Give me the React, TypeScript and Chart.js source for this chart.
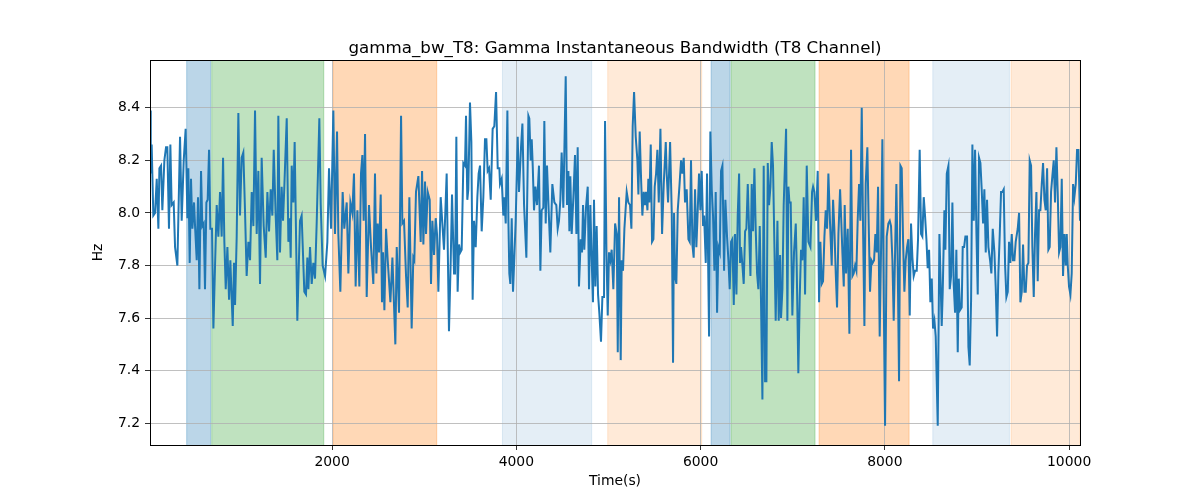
import React, { useEffect, useRef } from "react";
import { Chart, registerables } from "chart.js";

Chart.register(...registerables);

// ---- data: [time (s), bandwidth (Hz)] ----
const part1 = [
  [24, 8.39], [32, 8.15], [42, 8.26], [60, 7.99], [79, 8.0], [97, 8.13], [115, 7.94], [126, 8.17], [144, 8.18], [158, 8.01],
  [180, 8.2], [198, 8.25], [212, 8.25], [230, 7.94], [245, 8.26], [259, 8.03], [281, 8.04], [296, 7.87], [321, 7.8], [350, 8.29],
  [368, 7.97], [390, 8.2], [411, 8.32], [430, 7.98], [440, 8.17], [455, 7.81], [469, 8.13], [484, 7.94], [502, 8.04], [513, 7.95],
  [531, 7.82], [545, 8.06], [560, 7.71], [578, 8.16], [592, 7.95], [607, 7.96], [621, 7.71], [636, 8.04], [650, 8.05], [665, 8.24],
  [679, 7.94], [697, 7.94], [712, 7.56], [730, 7.8], [748, 8.03], [766, 7.91], [784, 8.08], [802, 7.91], [817, 8.21], [831, 7.89],
  [846, 7.71], [864, 7.87], [882, 7.67], [896, 7.82], [911, 7.67], [922, 7.57], [936, 7.81], [947, 7.65], [965, 7.91], [983, 8.38],
  [1001, 7.99], [1019, 8.21], [1037, 8.23], [1055, 8.01], [1073, 7.76], [1092, 7.89], [1110, 7.82], [1128, 8.08], [1146, 7.95], [1164, 8.39],
  [1182, 7.92], [1200, 8.16], [1218, 7.73], [1236, 8.21], [1258, 7.95], [1280, 7.83], [1298, 8.08], [1316, 7.93], [1334, 8.09], [1352, 7.99],
  [1367, 8.24], [1388, 7.99], [1406, 7.82], [1417, 8.37], [1435, 7.85], [1453, 8.1], [1468, 7.97], [1482, 8.1], [1508, 8.36], [1526, 7.89],
  [1540, 7.98], [1551, 7.83], [1562, 8.18], [1580, 8.04], [1594, 8.27],
];
const part2 = [
  [1623, 7.59], [1652, 7.97], [1670, 7.99], [1699, 7.7], [1717, 7.69], [1732, 7.83], [1743, 7.71], [1761, 7.87], [1779, 7.73], [1797, 7.81],
  [1815, 7.75], [1833, 7.96], [1862, 8.36], [1877, 8.03], [1898, 7.8], [1924, 7.76], [1949, 7.89], [1967, 8.17], [1989, 7.94], [2014, 8.39],
  [2032, 7.92], [2054, 8.31], [2068, 7.92], [2090, 7.7], [2115, 8.08], [2133, 7.94], [2159, 8.04], [2177, 7.77], [2199, 8.04], [2220, 8.0],
  [2238, 8.15], [2256, 7.72], [2275, 8.01], [2296, 7.72], [2314, 8.15], [2329, 8.22], [2343, 7.97], [2358, 8.3], [2376, 7.68], [2401, 8.03],
  [2423, 7.87], [2448, 7.73], [2466, 8.15], [2481, 7.77], [2495, 7.96], [2510, 7.85], [2528, 8.07], [2542, 7.66], [2553, 7.85], [2568, 7.63],
  [2586, 7.94], [2604, 7.82], [2633, 7.66], [2655, 7.83], [2687, 7.5], [2702, 7.87], [2727, 7.62], [2749, 8.37], [2763, 7.96], [2781, 7.97],
  [2803, 7.76], [2821, 7.64], [2839, 8.06], [2864, 7.56], [2882, 7.83], [2893, 7.82], [2911, 8.08], [2937, 8.14], [2962, 7.89], [2977, 8.16],
  [2991, 7.88], [3009, 8.12], [3020, 7.92], [3038, 8.08], [3060, 8.05], [3074, 7.73], [3089, 7.97], [3107, 7.84], [3125, 7.98], [3139, 7.92],
  [3154, 7.7], [3179, 8.06], [3215, 7.86], [3244, 8.15],
];
const part3 = [
  [3269, 7.55], [3288, 7.82], [3302, 8.07], [3324, 7.77], [3335, 7.77], [3349, 8.29], [3363, 7.7], [3378, 7.88], [3392, 7.85], [3407, 7.86],
  [3425, 8.19], [3443, 8.18], [3454, 8.37], [3468, 8.05], [3479, 8.09], [3497, 8.42], [3512, 8.27], [3526, 7.67], [3541, 7.97], [3559, 7.87],
  [3577, 8.06], [3591, 8.15], [3606, 8.18], [3624, 7.93], [3642, 8.06], [3660, 8.28], [3675, 8.28], [3689, 8.16], [3704, 8.17], [3722, 8.05],
  [3743, 8.32], [3761, 8.33], [3780, 8.46], [3798, 8.17], [3816, 8.17], [3823, 8.11], [3841, 8.13], [3859, 7.99], [3870, 8.06], [3885, 7.96],
  [3903, 8.39], [3914, 7.97], [3924, 7.77], [3935, 7.73], [3950, 7.98], [3964, 7.7], [3975, 7.8], [3993, 7.97], [4015, 8.29], [4029, 8.08],
  [4051, 8.25], [4066, 8.34], [4084, 8.03], [4109, 7.83], [4131, 8.37], [4141, 8.36], [4156, 8.2], [4167, 8.28], [4178, 8.18], [4192, 8.01],
  [4207, 8.1], [4225, 8.03], [4246, 8.18], [4261, 7.78], [4275, 8.01], [4293, 8.02], [4304, 8.35], [4319, 7.96], [4333, 8.18], [4351, 8.01],
  [4369, 7.85], [4391, 8.11], [4413, 8.04], [4434, 8.03], [4449, 7.94], [4463, 7.97], [4478, 8.05], [4492, 8.23], [4510, 8.02], [4521, 8.23],
  [4536, 8.52], [4550, 8.03], [4565, 8.16], [4576, 7.93], [4586, 8.14], [4601, 7.92], [4619, 8.06], [4637, 8.22], [4652, 7.92], [4666, 8.25],
  [4680, 7.72], [4699, 7.9], [4713, 7.85], [4724, 8.03], [4738, 7.86], [4756, 8.02], [4775, 8.1], [4789, 7.71], [4803, 8.03], [4818, 7.82],
  [4832, 7.66], [4843, 8.05], [4858, 7.72], [4872, 7.95], [4887, 7.69], [4901, 7.62], [4919, 7.51], [4934, 7.68], [4952, 7.68],
];
const part4 = [
  [4963, 8.35], [4978, 7.86], [4992, 7.61], [5006, 7.85], [5021, 7.82], [5035, 7.86], [5053, 7.71], [5072, 7.96], [5090, 7.92], [5101, 7.47],
  [5115, 8.06], [5133, 7.44], [5144, 7.82], [5158, 7.78], [5173, 7.94], [5198, 8.08], [5216, 8.04], [5234, 8.03], [5249, 7.94], [5263, 8.33],
  [5278, 8.46], [5296, 8.29], [5314, 8.2], [5325, 8.07], [5339, 8.31], [5354, 8.13], [5368, 7.99], [5383, 8.08], [5397, 8.03], [5408, 8.08],
  [5423, 8.01], [5433, 8.13], [5444, 8.04], [5459, 8.26], [5473, 7.89], [5488, 7.9], [5502, 8.1], [5517, 8.15], [5531, 8.24], [5546, 8.04],
  [5564, 8.32], [5582, 7.92], [5600, 8.11], [5622, 8.27], [5632, 8.15], [5647, 8.04], [5669, 8.27], [5687, 8.0], [5701, 7.43], [5712, 8.0],
  [5723, 7.76], [5737, 7.73], [5752, 8.01], [5770, 8.1], [5788, 8.2], [5802, 8.15], [5817, 8.21], [5831, 8.04], [5849, 8.09], [5868, 7.9],
  [5882, 7.89], [5896, 8.2], [5911, 7.88], [5925, 7.83], [5940, 8.09], [5954, 7.87], [5965, 7.97], [5983, 8.15], [5998, 8.01], [6012, 8.16],
  [6027, 7.95], [6038, 7.99], [6056, 7.81], [6070, 8.15], [6092, 7.53], [6106, 8.31], [6121, 8.09], [6135, 7.99], [6150, 7.78], [6164, 8.08],
  [6179, 7.62], [6193, 7.87], [6208, 7.85], [6222, 8.16], [6237, 8.18], [6255, 7.78], [6269, 8.05], [6287, 7.91], [6302, 7.82], [6316, 7.71],
  [6331, 7.89], [6345, 7.9], [6360, 7.65], [6374, 7.92], [6389, 7.69], [6403, 7.99], [6418, 8.15], [6428, 7.81], [6439, 7.87], [6454, 7.8],
  [6468, 7.73], [6483, 7.93], [6497, 7.94], [6512, 8.11], [6526, 7.94], [6541, 7.76], [6555, 8.11], [6569, 7.93], [6584, 8.17],
];
const part5 = [
  [6598, 7.94], [6613, 7.77], [6627, 7.71], [6642, 7.95], [6656, 7.66], [6671, 7.29], [6685, 8.18], [6700, 7.36], [6714, 7.36], [6729, 8.19],
  [6743, 8.03], [6758, 8.1], [6772, 8.27], [6786, 8.18], [6801, 7.88], [6815, 7.59], [6834, 7.97], [6848, 7.59], [6863, 7.84], [6873, 7.6],
  [6888, 7.71], [6902, 8.03], [6917, 8.2], [6928, 8.32], [6942, 7.59], [6953, 8.1], [6964, 8.04], [6978, 8.04], [6996, 7.61], [7014, 7.85],
  [7033, 7.96], [7043, 7.8], [7061, 7.39], [7076, 7.68], [7090, 7.86], [7105, 7.82], [7119, 8.06], [7134, 7.69], [7152, 8.18], [7170, 7.89],
  [7192, 7.87], [7210, 8.08], [7221, 8.1], [7235, 8.08], [7253, 7.97], [7271, 8.16], [7286, 7.66], [7300, 7.89], [7315, 7.73], [7329, 7.74],
  [7344, 7.91], [7358, 8.01], [7373, 7.94], [7387, 8.15], [7405, 7.96], [7423, 7.8], [7438, 8.05], [7452, 7.94], [7467, 7.77], [7481, 7.64],
  [7496, 7.92], [7514, 8.09], [7528, 7.96], [7539, 7.85], [7554, 7.72], [7564, 8.03], [7579, 7.77], [7597, 7.94], [7615, 7.54], [7633, 8.24],
  [7648, 7.76], [7662, 7.77], [7677, 7.8], [7691, 7.78], [7705, 7.97], [7720, 8.11], [7734, 7.97], [7749, 8.4], [7763, 7.95], [7778, 7.57],
  [7792, 8.11], [7810, 8.25], [7825, 7.95], [7839, 7.7], [7854, 7.82], [7868, 7.81], [7883, 7.82], [7897, 7.92], [7912, 7.85], [7926, 8.1],
  [7944, 7.53], [7959, 7.87], [7973, 8.28], [7988, 7.67], [8002, 7.19], [8020, 7.91], [8038, 7.96], [8053, 7.97], [8067, 7.95], [8082, 7.82],
  [8096, 7.59], [8111, 7.85], [8125, 8.11], [8140, 7.79], [8154, 7.36], [8169, 8.18], [8183, 8.17], [8198, 7.89], [8212, 7.7],
];
const part6 = [
  [8226, 7.82], [8241, 7.87], [8255, 7.9], [8270, 7.61], [8284, 7.96], [8299, 7.83], [8313, 7.76], [8328, 7.78], [8346, 7.78], [8360, 7.9],
  [8378, 8.24], [8393, 7.92], [8407, 7.91], [8422, 8.06], [8436, 7.99], [8451, 7.9], [8465, 7.79], [8480, 7.86], [8494, 7.66], [8509, 7.75],
  [8523, 7.56], [8538, 7.59], [8552, 7.53], [8574, 7.19], [8592, 7.92], [8603, 7.77], [8617, 7.57], [8628, 7.7], [8646, 8.01], [8657, 7.86],
  [8672, 8.15], [8690, 8.18], [8704, 7.71], [8719, 7.76], [8733, 8.04], [8747, 7.73], [8762, 7.62], [8776, 7.86], [8791, 7.47], [8802, 7.75],
  [8816, 7.63], [8834, 7.64], [8845, 7.87], [8860, 7.87], [8874, 7.91], [8892, 7.91], [8907, 7.49], [8921, 7.42], [8936, 7.67], [8950, 8.26],
  [8965, 7.97], [8979, 8.24], [8994, 7.92], [9008, 7.69], [9022, 8.21], [9037, 8.19], [9051, 8.09], [9066, 7.96], [9080, 8.09], [9095, 7.85],
  [9109, 8.05], [9124, 7.87], [9142, 7.82], [9156, 7.77], [9171, 7.94], [9189, 7.85], [9203, 7.72], [9218, 7.53], [9232, 7.77], [9247, 7.92],
  [9261, 8.08], [9276, 8.08], [9290, 8.09], [9305, 7.8], [9319, 7.68], [9334, 7.7], [9348, 7.89], [9362, 7.81], [9377, 7.92], [9391, 7.82],
  [9406, 7.82], [9420, 7.89], [9442, 7.94], [9457, 8.0], [9471, 7.66], [9486, 7.7], [9500, 7.88], [9515, 7.7], [9529, 7.7], [9543, 7.8],
  [9558, 7.81], [9572, 8.2], [9587, 8.18], [9601, 7.87], [9616, 7.68], [9630, 7.92], [9645, 8.08], [9659, 7.74], [9674, 8.01], [9688, 8.01],
  [9703, 8.11], [9717, 8.19], [9732, 8.05], [9746, 8.01], [9761, 8.17], [9775, 7.86], [9789, 7.87], [9804, 8.08], [9818, 8.14], [9833, 8.2],
  [9847, 8.04], [9862, 8.25], [9876, 8.08], [9891, 7.85], [9905, 7.87], [9920, 8.13], [9934, 7.76], [9949, 7.92], [9963, 7.8], [9974, 7.92],
  [9985, 7.8], [9999, 7.72], [10014, 7.69], [10028, 7.77], [10043, 8.11], [10057, 8.06], [10072, 8.11], [10086, 8.24], [10101, 8.24], [10118, 7.97],
];

// shaded segments (time in s) and their kind
const spanStart = [422, 694, 2014, 3849, 4992, 6114, 6331, 7286, 8520, 9370];
const spanEnd = [683, 1910, 3136, 4818, 6012, 6320, 7242, 8263, 9352, 10118];
const spanKind = ["blue", "green", "orange", "blueLight", "orangeLight", "blue", "green", "orange", "blueLight", "orangeLight"];

const xTicks = [2000, 4000, 6000, 8000, 10000];
const yTicks = [7.2, 7.4, 7.6, 7.8, 8.0, 8.2, 8.4];

const TITLE = "gamma_bw_T8: Gamma Instantaneous Bandwidth (T8 Channel)";
const X_LABEL = "Time(s)";
const Y_LABEL = "Hz";

const X_MIN = 24;
const X_MAX = 10118;
const Y_MIN = 7.117;
const Y_MAX = 8.582;

const SPAN_COLORS: Record<string, string> = {
  blue: "rgba(31,119,180,0.3)",
  green: "rgba(44,160,44,0.3)",
  orange: "rgba(255,127,14,0.3)",
  blueLight: "rgba(31,119,180,0.12)",
  orangeLight: "rgba(255,127,14,0.16)",
};

const FONT = "'DejaVu Sans', Verdana, sans-serif";

export default function App() {
  const ref = useRef<HTMLCanvasElement | null>(null);

  useEffect(() => {
    document.body.style.margin = "0";
    const canvas = ref.current;
    if (!canvas) return;
    const points = [...part1, ...part2, ...part3, ...part4, ...part5, ...part6].map(([x, y]) => ({ x, y }));

    const decor = {
      id: "decor",
      beforeDraw(chart: any) {
        const { ctx, chartArea: a, scales } = chart;
        const xs = scales.x;
        ctx.save();
        ctx.beginPath();
        ctx.rect(a.left, a.top, a.right - a.left, a.bottom - a.top);
        ctx.clip();
        for (let i = 0; i < spanStart.length; i++) {
          const x0 = xs.getPixelForValue(spanStart[i]);
          const x1 = xs.getPixelForValue(spanEnd[i]);
          const c = SPAN_COLORS[spanKind[i]];
          ctx.fillStyle = c;
          ctx.fillRect(x0, a.top, x1 - x0, a.bottom - a.top);
          ctx.strokeStyle = c;
          ctx.lineWidth = 1;
          ctx.strokeRect(x0, a.top - 2, x1 - x0, a.bottom - a.top + 4);
        }
        ctx.restore();
      },
      afterDraw(chart: any) {
        const { ctx, chartArea: a } = chart;
        ctx.save();
        ctx.strokeStyle = "#000";
        ctx.lineWidth = 1;
        ctx.strokeRect(Math.round(a.left) + 0.5, Math.round(a.top) + 0.5, Math.round(a.right - a.left), Math.round(a.bottom - a.top));
        const cx = (a.left + a.right) / 2;
        ctx.fillStyle = "#000";
        ctx.textAlign = "center";
        ctx.textBaseline = "alphabetic";
        ctx.font = `16.7px ${FONT}`;
        ctx.fillText(TITLE, cx, 53);
        ctx.font = `13.9px ${FONT}`;
        ctx.fillText(X_LABEL, cx, 485);
        ctx.translate(102, (a.top + a.bottom) / 2);
        ctx.rotate(-Math.PI / 2);
        ctx.fillText(Y_LABEL, 0, 0);
        ctx.restore();
      },
    };

    const tickFont = { family: FONT, size: 13.9 };

    const chart = new Chart(canvas, {
      type: "line",
      data: {
        datasets: [
          {
            data: points,
            borderColor: "#1f77b4",
            borderWidth: 2,
            pointRadius: 0,
            tension: 0,
            fill: false,
          },
        ],
      },
      options: {
        responsive: false,
        maintainAspectRatio: false,
        animation: false,
        parsing: true,
        layout: { padding: { top: 60, right: 120, left: 0, bottom: 0 } },
        plugins: { legend: { display: false }, tooltip: { enabled: false }, title: { display: false } },
        scales: {
          x: {
            type: "linear",
            min: X_MIN,
            max: X_MAX,
            afterBuildTicks: (axis: any) => {
              axis.ticks = xTicks.map((v) => ({ value: v }));
            },
            afterFit: (axis: any) => {
              axis.height = 55;
            },
            border: { display: false },
            grid: { color: "#b0b0b0", lineWidth: 0.8, tickColor: "#000", tickLength: 5, drawTicks: true },
            ticks: { color: "#000", font: tickFont, padding: 4, maxRotation: 0, autoSkip: false, callback: (v: any) => String(v) },
          },
          y: {
            type: "linear",
            min: Y_MIN,
            max: Y_MAX,
            afterBuildTicks: (axis: any) => {
              axis.ticks = yTicks.map((v) => ({ value: v }));
            },
            afterFit: (axis: any) => {
              axis.width = 150;
            },
            border: { display: false },
            grid: { color: "#b0b0b0", lineWidth: 0.8, tickColor: "#000", tickLength: 5, drawTicks: true },
            ticks: { color: "#000", font: tickFont, padding: 5, autoSkip: false, callback: (v: any) => Number(v).toFixed(1) },
          },
        },
      },
      plugins: [decor],
    } as any);

    return () => chart.destroy();
  }, []);

  return (
    <div style={{ width: 1200, height: 500, background: "#fff" }}>
      <canvas ref={ref} width={1200} height={500} style={{ width: 1200, height: 500, display: "block" }} />
    </div>
  );
}
